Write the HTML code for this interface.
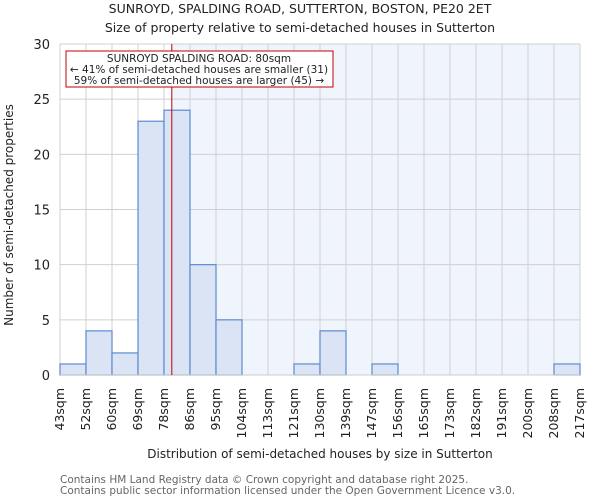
<!DOCTYPE html>
<html><head><meta charset="utf-8"><style>
body{margin:0;background:#fff;font-family:"DejaVu Sans","Liberation Sans",sans-serif}
svg{display:block}
text{font-family:"DejaVu Sans","Liberation Sans",sans-serif}
</style></head><body>
<svg id="chart" width="600" height="500" viewBox="0 0 600 500" xmlns="http://www.w3.org/2000/svg">
<text x="300" y="13" text-anchor="middle" font-size="12.5" fill="#222">SUNROYD, SPALDING ROAD, SUTTERTON, BOSTON, PE20 2ET</text>
<text x="300" y="32" text-anchor="middle" font-size="12.5" fill="#222">Size of property relative to semi-detached houses in Sutterton</text>
<g id="plot"></g>
<text x="320" y="458" text-anchor="middle" font-size="12" fill="#222">Distribution of semi-detached houses by size in Sutterton</text>
<text transform="translate(13,215) rotate(-90)" text-anchor="middle" font-size="12" fill="#222">Number of semi-detached properties</text>
<text x="60" y="483" font-size="10.5" fill="#666">Contains HM Land Registry data © Crown copyright and database right 2025.</text>
<text x="60" y="494" font-size="10.5" fill="#666">Contains public sector information licensed under the Open Government Licence v3.0.</text>
</svg>
<script>
const binLabels=["43sqm","52sqm","60sqm","69sqm","78sqm","86sqm","95sqm","104sqm","113sqm","121sqm","130sqm","139sqm","147sqm","156sqm","165sqm","173sqm","182sqm","191sqm","200sqm","208sqm","217sqm"];
const counts=[1,4,2,23,24,10,5,0,0,1,4,0,1,0,0,0,0,0,0,1];
const yTicks=[0,5,10,15,20,25,30];
const propertyIndex=4.3;
const NS="http://www.w3.org/2000/svg";
const g=document.getElementById('plot');
const X0=60,X1=580,Y0=375,Y1=44,yMax=30;
const nb=counts.length;
const xs=i=>X0+(X1-X0)*i/nb;
const ys=v=>Y0-(Y0-Y1)*v/yMax;
function mk(t,a){const e=document.createElementNS(NS,t);for(const k in a)e.setAttribute(k,a[k]);g.appendChild(e);return e;}
const px=xs(propertyIndex);
let e=mk('rect',{x:px,y:Y1,width:X1-px,height:Y0-Y1,fill:'#f0f4fc'});


for(let i=0;i<=nb;i++){e=mk('line',{x1:xs(i),x2:xs(i),y1:Y1,y2:Y0,stroke:'#d0d0d0','stroke-width':1});

}
yTicks.forEach(v=>{e=mk('line',{x1:X0,x2:X1,y1:ys(v),y2:ys(v),stroke:'#d0d0d0','stroke-width':1});


const t=mk('text',{x:X0-10,y:ys(v)+5,'text-anchor':'end','font-size':13,fill:'#222'});t.textContent=v;

});
counts.forEach((c,i)=>{if(c<=0)return;e=mk('rect',{x:xs(i),y:ys(c),width:xs(i+1)-xs(i),height:Y0-ys(c),fill:'#dae4f4',stroke:'#5b8bd0','stroke-width':1.2});

});
e=mk('line',{x1:X0,x2:X1,y1:Y0,y2:Y0,stroke:'#ccc','stroke-width':1});


binLabels.forEach((l,i)=>{const x=xs(i)+4;const t=mk('text',{transform:`translate(${x},388) rotate(-90)`,'text-anchor':'end','font-size':12.5,fill:'#222'});t.textContent=l;

});
e=mk('line',{x1:px,x2:px,y1:Y1,y2:Y0,stroke:'#c00000','stroke-width':1});


e=mk('rect',{x:66,y:51,width:267,height:36,fill:'#fff',stroke:'#c00000','stroke-width':1});


[["SUNROYD SPALDING ROAD: 80sqm",62],["← 41% of semi-detached houses are smaller (31)",73],["59% of semi-detached houses are larger (45) →",84]].forEach(([s,y])=>{const t=mk('text',{x:199,y:y,'text-anchor':'middle','font-size':10.5,fill:'#222'});t.textContent=s;

});
</script>
</body></html>
